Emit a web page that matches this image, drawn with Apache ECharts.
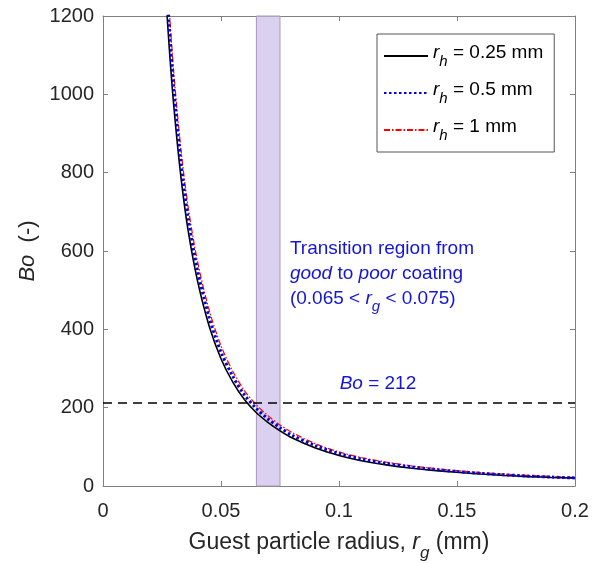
<!DOCTYPE html>
<html><head><meta charset="utf-8">
<script src="https://cdn.jsdelivr.net/npm/echarts@6/dist/echarts.min.js"></script>
<style>html,body{margin:0;padding:0;background:#fff}#c{width:598px;height:563px}</style>
</head><body><div id="c"></div>
<script>
const radius = [0.026,0.028,0.030,0.033,0.036,0.040,0.045,0.050,0.055,0.060,0.065,0.070,0.075,0.080,0.090,0.100,0.110,0.120,0.130,0.140,0.150,0.160,0.170,0.180,0.190,0.200];
const bo025 = [1310,1125,970,790,655,525,408,325,265,220,187,162,141,123,97,78,64,54,46,40,35,30.5,27,24,21.8,20];
const bo05  = [1370,1180,1015,828,688,552,430,342,280,232,198,171,149,130,103,83,68,57.5,49,42.5,37,32.3,28.6,25.4,22.8,20.5];
const bo1   = [1420,1225,1055,862,716,575,449,358,293,243,207,179,156,137,108,87,72,61,52,45,39.2,34.2,30.3,26.9,24.2,22];
const seriesNames = ['0.25','0.5','1'];
const transition = [0.065, 0.075];
const boCritical = 212;
const xTicks = [0, 0.05, 0.1, 0.15, 0.2];
const yTicks = [0, 200, 400, 600, 800, 1000, 1200];

const FONT = 'Liberation Sans, Arial, sans-serif';
const TXT = '#262626';
const AX = '#808080';
const BLUE = '#1515d8';
function pairs(ys){ return radius.map((r,i)=>[r, ys[i]]); }
const legendMap = {};
seriesNames.forEach(v=>{ legendMap['r_h = '+v+' mm'] = '{i|r}{s|h}{n| = '+v+' mm}'; });

function tick(){ return {show:true, inside:true, length:5, lineStyle:{color:AX, width:1}}; }
function line(){ return {show:true, onZero:false, lineStyle:{color:AX, width:1}}; }

const chart = echarts.init(document.getElementById('c'), null, {renderer:'canvas'});
chart.setOption({
  animation:false,
  backgroundColor:'#fff',
  grid:{left:103, right:23, top:16, bottom:77, containLabel:false, outerBoundsMode:'none'},
  textStyle:{fontFamily:FONT},
  xAxis:[
    {type:'value', min:0, max:0.2, interval:0.05, position:'bottom',
      axisLine:line(), axisTick:tick(), splitLine:{show:false},
      axisLabel:{color:TXT, fontSize:20, fontFamily:FONT, margin:15, formatter:v=>String(+v.toFixed(2))},
      name:'{t|Guest particle radius, }{i|r}{s|g}{t| (mm)}', nameLocation:'middle', nameGap:45,
      nameTextStyle:{rich:{
        t:{fontSize:23, color:TXT, fontFamily:FONT, lineHeight:31, verticalAlign:'top'},
        i:{fontSize:23, color:TXT, fontFamily:FONT, fontStyle:'italic', lineHeight:31, verticalAlign:'top'},
        s:{fontSize:17, color:TXT, fontFamily:FONT, fontStyle:'italic', lineHeight:31, verticalAlign:'bottom'}
      }}},
    {type:'value', min:0, max:0.2, interval:0.05, position:'top',
      axisLine:line(), axisTick:tick(), splitLine:{show:false}, axisLabel:{show:false}}
  ],
  yAxis:[
    {type:'value', min:0, max:1200, interval:200, position:'left',
      axisLine:line(), axisTick:tick(), splitLine:{show:false},
      axisLabel:{color:TXT, fontSize:20, fontFamily:FONT, margin:9, formatter:v=>String(v)},
      name:'{i|Bo}{t|  (-)}', nameLocation:'middle', nameGap:63, nameRotate:90,
      nameTextStyle:{rich:{
        t:{fontSize:22, color:TXT, fontFamily:FONT},
        i:{fontSize:22, color:TXT, fontFamily:FONT, fontStyle:'italic'}
      }}},
    {type:'value', min:0, max:1200, interval:200, position:'right',
      axisLine:line(), axisTick:tick(), splitLine:{show:false}, axisLabel:{show:false}}
  ],
  legend:{
    orient:'vertical', left:377, top:34, itemWidth:44, itemHeight:14, itemGap:11,
    padding:[9,11,9,6], borderColor:'#555', borderWidth:1, backgroundColor:'#fff',
    itemStyle:{opacity:0},
    data:Object.keys(legendMap),
    formatter:n=>legendMap[n],
    textStyle:{rich:{
      i:{fontSize:19, color:'#000', fontFamily:FONT, fontStyle:'italic', lineHeight:26, verticalAlign:'top'},
      s:{fontSize:15, color:'#000', fontFamily:FONT, fontStyle:'italic', lineHeight:26, verticalAlign:'bottom'},
      n:{fontSize:19, color:'#000', fontFamily:FONT, lineHeight:26, verticalAlign:'top'}
    }}
  },
  series:[
    {name:'r_h = 0.25 mm', type:'line', data:pairs(bo025), smooth:0.3, showSymbol:false, symbol:'none', clip:true,
      lineStyle:{color:'#000', width:1.6, type:'solid'}, itemStyle:{color:'#000'}, z:3,
      markArea:{silent:true, itemStyle:{color:'rgba(204,188,234,0.7)', borderColor:'#a898b8', borderWidth:1},
        data:[[{xAxis:transition[0]},{xAxis:transition[1]}]]},
      markLine:{silent:true, symbol:'none', label:{show:false},
        lineStyle:{color:'#000', type:[9,6], width:1.6}, data:[{yAxis:boCritical}]}
    },
    {name:'r_h = 0.5 mm', type:'line', data:pairs(bo05), smooth:0.3, showSymbol:false, symbol:'none', clip:true,
      lineStyle:{color:'#0000e0', width:3, type:[2.5,2.5], cap:'butt'}, itemStyle:{color:'#0000e0'}, z:4,
      markPoint:{silent:true, symbol:'circle', symbolSize:0, data:[
        {coord:[0.0792, 534], label:{show:true, position:'right', distance:0, align:'left', verticalAlign:'middle',
          formatter:'{n|Transition region from}\n{i|good}{n| to }{i|poor}{n| coating}\n{n|(0.065 < }{i|r}{s|g}{n| < 0.075)}',
          rich:{
            n:{fontSize:19, color:BLUE, fontFamily:FONT, lineHeight:25, verticalAlign:'top'},
            i:{fontSize:19, color:BLUE, fontFamily:FONT, fontStyle:'italic', lineHeight:25, verticalAlign:'top'},
            s:{fontSize:15, color:BLUE, fontFamily:FONT, fontStyle:'italic', lineHeight:25, verticalAlign:'bottom'}
          }}},
        {coord:[0.1165, 260], label:{show:true, position:'inside', formatter:'{i|Bo}{n| = 212}',
          rich:{
            n:{fontSize:19, color:BLUE, fontFamily:FONT},
            i:{fontSize:19, color:BLUE, fontFamily:FONT, fontStyle:'italic'}
          }}}
      ]}
    },
    {name:'r_h = 1 mm', type:'line', data:pairs(bo1), smooth:0.3, showSymbol:false, symbol:'none', clip:true,
      lineStyle:{color:'#ff0000', width:1.2, type:[6,2,1.5,2]}, itemStyle:{color:'#ff0000'}, z:2}
  ]
});
</script></body></html>
